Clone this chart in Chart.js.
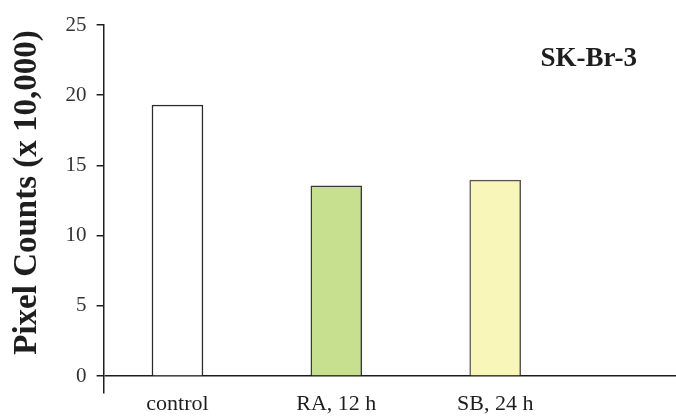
<!DOCTYPE html>
<html>
<head>
<meta charset="utf-8">
<script src="https://cdn.jsdelivr.net/npm/chart.js@4"></script>
<style>
    html, body { margin: 0; padding: 0; background: #fff; }
    #wrap { width: 676px; height: 418px; position: relative; }
</style>
</head>
<body>
<div id="wrap"><canvas id="chart"></canvas></div>
<script>
const categories = ['control', 'RA, 12 h', 'SB, 24 h'];
const pixelCounts = [19.3, 13.55, 13.95];
const barFills = ['#ffffff', '#c6e08f', '#f9f6b9'];
const barEdges = ['#2a2a2a', '#3a3a3a', '#5a5650'];
const yTicks = [0, 5, 10, 15, 20, 25];
const chartTitle = 'SK-Br-3';
const yTitle = 'Pixel Counts (x 10,000)';

const serif = "'Liberation Serif', 'DejaVu Serif', serif";
const ink = '#1e1e1e';

// corner label drawn inside the plot, top right
const cornerLabel = {
    id: 'cornerLabel',
    afterDraw(chart) {
        const { ctx, chartArea } = chart;
        ctx.save();
        ctx.font = `bold 27px ${serif}`;
        ctx.fillStyle = ink;
        ctx.textAlign = 'right';
        ctx.textBaseline = 'middle';
        ctx.fillText(chartTitle, chartArea.right - 39, chartArea.top + 34);
        ctx.restore();
    }
};

new Chart(document.getElementById('chart'), {
    type: 'bar',
    data: {
        datasets: [{
            data: pixelCounts.map((v, i) => ({ x: i, y: v })),
            backgroundColor: barFills,
            borderColor: barEdges,
            borderWidth: 1.5,
            barThickness: 51,
        }]
    },
    options: {
        responsive: true,
        maintainAspectRatio: false,
        animation: false,
        layout: {
            padding: { top: 25, right: 0, bottom: 3, left: 8 }
        },
        scales: {
            x: {
                type: 'linear',
                offset: false,
                min: -0.465,
                max: 3.138,
                grid: { display: false, drawTicks: false, offset: false },
                border: { display: false },
                ticks: {
                    stepSize: 1,
                    includeBounds: false,
                    autoSkip: false,
                    maxRotation: 0,
                    padding: 0,
                    color: ink,
                    font: { family: serif, size: 22, lineHeight: 1 },
                    callback: (value) => categories[value] ?? '',
                }
            },
            y: {
                min: -1.207,
                max: 25,
                afterBuildTicks: (scale) => {
                    scale.ticks = yTicks.map(v => ({ value: v }));
                },
                grid: {
                    drawOnChartArea: true,
                    color: (ctx) => ctx.tick && ctx.tick.value === 0 ? ink : 'rgba(0,0,0,0)',
                    lineWidth: 1.5,
                    tickColor: ink,
                    tickLength: 7,
                },
                border: { display: true, color: ink, width: 1.5 },
                ticks: {
                    padding: 10,
                    color: '#333',
                    font: { family: serif, size: 21 },
                },
                title: {
                    display: true,
                    // leading spaces lift the rotated title a little, as in the original
                    text: '    ' + yTitle,
                    color: ink,
                    padding: { top: 0, bottom: 8 },
                    font: { family: serif, size: 33, weight: 'bold' },
                }
            }
        },
        plugins: {
            legend: { display: false },
            tooltip: { enabled: false }
        }
    },
    plugins: [cornerLabel]
});
</script>
</body>
</html>
